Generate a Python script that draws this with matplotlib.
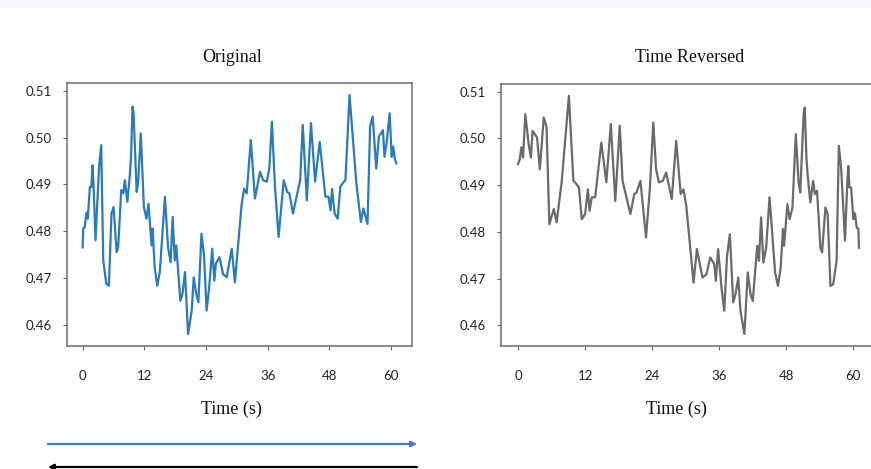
import numpy as np
import matplotlib.pyplot as plt
from matplotlib.patches import Rectangle

time = [0.0, 0.1, 0.4, 0.7, 0.9, 1.0, 1.4, 1.7, 1.9, 2.1, 2.5, 2.8, 3.2, 3.6,
        4.0, 4.6, 5.1, 5.6, 6.0, 6.6, 6.9, 7.5, 7.9, 8.2, 8.7, 9.2, 9.4, 9.7,
        9.9, 10.5, 10.8, 11.3, 11.9, 12.4, 12.8, 13.4, 13.6, 14.0, 14.5, 15.0,
        16.0, 16.6, 17.1, 17.5, 17.9, 18.2, 19.0, 19.4, 19.9, 20.5, 21.2, 21.6,
        22.1, 22.5, 23.1, 23.6, 24.1, 24.6, 25.2, 25.6, 25.9, 26.6, 27.3, 28.0,
        29.0, 29.6, 30.9, 31.4, 31.9, 32.7, 33.5, 34.5, 35.1, 35.8, 36.3, 36.8,
        37.4, 38.1, 39.1, 39.8, 40.2, 40.9, 41.6, 42.3, 42.8, 43.6, 44.4, 45.2,
        46.1, 47.2, 47.8, 48.2, 48.5, 49.0, 49.6, 50.1, 50.8, 51.1, 51.9, 53.2,
        54.1, 54.6, 55.4, 55.9, 56.4, 57.1, 57.6, 58.4, 58.7, 59.1, 59.7, 60.1,
        60.4, 60.7, 61.0]
signal = [0.4766, 0.4806, 0.4809, 0.4838, 0.4841, 0.4827, 0.4895, 0.4895,
          0.4941, 0.4902, 0.4781, 0.4852, 0.4938, 0.4984, 0.4738, 0.4688,
          0.4684, 0.4838, 0.4852, 0.4756, 0.4766, 0.4888, 0.4881, 0.4909,
          0.4863, 0.4924, 0.4959, 0.5066, 0.5052, 0.4884, 0.4906, 0.5009,
          0.4852, 0.4827, 0.4859, 0.4770, 0.4806, 0.4724, 0.4684, 0.4713,
          0.4874, 0.4766, 0.4734, 0.4831, 0.4738, 0.4770, 0.4652, 0.4666,
          0.4713, 0.4581, 0.4631, 0.4702, 0.4666, 0.4649, 0.4795, 0.4749,
          0.4631, 0.4681, 0.4763, 0.4695, 0.4731, 0.4745, 0.4709, 0.4702,
          0.4763, 0.4691, 0.4856, 0.4891, 0.4881, 0.4995, 0.4870, 0.4927,
          0.4909, 0.4906, 0.4934, 0.5034, 0.4895, 0.4788, 0.4909, 0.4884,
          0.4881, 0.4838, 0.4874, 0.4909, 0.5027, 0.4866, 0.5031, 0.4906,
          0.4991, 0.4874, 0.4874, 0.4845, 0.4891, 0.4838, 0.4827, 0.4895,
          0.4906, 0.4909, 0.5091, 0.4906, 0.4820, 0.4849, 0.4816, 0.5024,
          0.5045, 0.4934, 0.5002, 0.5016, 0.4959, 0.4988, 0.5052, 0.4959,
          0.4981, 0.4955, 0.4945]

xticks = [0, 12, 24, 36, 48, 60]
yticks = [0.46, 0.47, 0.48, 0.49, 0.50, 0.51]

t = np.array(time)
t_rev = t[-1] - t[::-1]
s_rev = np.array(signal)[::-1]

W, H = 871, 469
fig = plt.figure(figsize=(W / 100, H / 100), dpi=100)

# light strip at the top, like the screenshot
fig.patches.append(Rectangle((0, 1 - 7 / H), 1, 7 / H, transform=fig.transFigure,
                             color='#f6f7fa', zorder=0))


def px_axes(x0, x1, y0, y1):
    return fig.add_axes([x0 / W, 1 - y1 / H, (x1 - x0) / W, (y1 - y0) / H])


tick_font = dict(family='Lato', size=9.5, color='#222222')

ax1 = px_axes(67, 412, 83, 346)
ax1.plot(t, signal, color='#2b7bba', lw=1.6)

ax2 = px_axes(501, 876, 84, 346)
ax2.plot(t_rev, s_rev, color='#6a6a6a', lw=1.6)
ax2.spines['right'].set_visible(False)

for ax in (ax1, ax2):
    ax.set_xticks(xticks)
    ax.set_yticks(yticks)
    ax.set_yticklabels([f'{v:.2f}' for v in yticks])
    ax.tick_params(axis='x', length=3, width=0.8, color='#666666', pad=14)
    ax.tick_params(axis='y', length=3, width=0.8, color='#666666', pad=8)
    for lab in ax.get_xticklabels() + ax.get_yticklabels():
        lab.set(**tick_font)
    for sp in ax.spines.values():
        sp.set_color('#6e6e6e')
        sp.set_linewidth(1.1)
    ax.margins(x=0.05, y=0.05)

serif = dict(family='Liberation Serif', size=13, color='#111111',
             ha='center', va='center')
fig.text(232 / W, 1 - 57 / H, 'Original', **serif)
fig.text(690 / W, 1 - 57 / H, 'Time Reversed', **serif)
fig.text(231 / W, 1 - 409 / H, 'Time (s)', **serif)
fig.text(676 / W, 1 - 409 / H, 'Time (s)', **serif)

# direction arrows under the left panel
fig.add_artist(plt.Annotation('', xy=(417 / W, 1 - 444 / H), xytext=(48 / W, 1 - 444 / H),
                              xycoords='figure fraction',
                              arrowprops=dict(arrowstyle='-|>', color='#4a78c8', lw=1.6,
                                              mutation_scale=8, shrinkA=0, shrinkB=0)))
fig.add_artist(plt.Annotation('', xy=(48 / W, 1 - 467 / H), xytext=(417 / W, 1 - 467 / H),
                              xycoords='figure fraction',
                              arrowprops=dict(arrowstyle='-|>', color='black', lw=1.6,
                                              mutation_scale=8, shrinkA=0, shrinkB=0)))

fig.savefig('out.png', dpi=100)
